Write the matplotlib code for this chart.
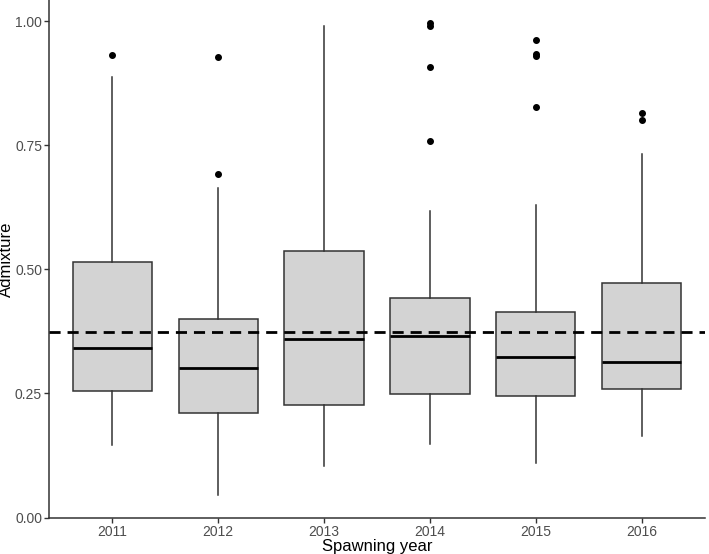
import numpy as np
import matplotlib
matplotlib.use("Agg")
import matplotlib.pyplot as plt

plt.rcParams['font.family'] = ['Liberation Sans', 'DejaVu Sans']

# Box statistics
years = ['2011', '2012', '2013', '2014', '2015', '2016']
whisker_low = [0.147, 0.046, 0.103, 0.149, 0.109, 0.165]
q1 = [0.254, 0.210, 0.226, 0.248, 0.244, 0.258]
median = [0.341, 0.302, 0.359, 0.365, 0.323, 0.313]
q3 = [0.514, 0.401, 0.538, 0.442, 0.415, 0.472]
whisker_high = [0.887, 0.665, 0.990, 0.617, 0.629, 0.732]
outliers = [
    [0.933],
    [0.929, 0.692],
    [],
    [0.996, 0.990, 0.907, 0.758],
    [0.962, 0.935, 0.931, 0.827],
    [0.815, 0.802],
]
overall_mean = 0.373

stats = []
for i in range(len(years)):
    stats.append(dict(whislo=whisker_low[i], q1=q1[i], med=median[i], q3=q3[i],
                      whishi=whisker_high[i], fliers=outliers[i], label=years[i]))

fig = plt.figure(figsize=(7.09, 5.54), dpi=100)
ax = fig.add_axes([49/709, 36/554, 656/709, 518/554])

edge = '#333333'
ax.bxp(stats, positions=np.arange(1, len(years) + 1), widths=0.75,
       patch_artist=True, showcaps=False,
       boxprops=dict(facecolor='#d3d3d3', edgecolor=edge, linewidth=1.1),
       whiskerprops=dict(color=edge, linewidth=1.1),
       medianprops=dict(color='black', linewidth=2.0),
       flierprops=dict(marker='o', markerfacecolor='black', markeredgecolor='black',
                       markersize=4, linestyle='none'))

ax.axhline(overall_mean, color='black', linewidth=2, dashes=(4, 2.5), zorder=5)

ax.set_xlim(0.4, 6.6)
ax.set_ylim(-0.001, 1.043)
ax.set_yticks([0, 0.25, 0.5, 0.75, 1.0])
ax.set_yticklabels(['0.00', '0.25', '0.50', '0.75', '1.00'])

for side in ['top', 'right']:
    ax.spines[side].set_visible(False)
for side in ['left', 'bottom']:
    ax.spines[side].set_color('#333333')
    ax.spines[side].set_linewidth(1.1)

ax.tick_params(axis='both', colors='#333333', length=3.5, width=1, labelsize=10,
               labelcolor='#4d4d4d', pad=1.5)

ax.set_xlabel('Spawning year', fontsize=12, labelpad=0)
ax.set_ylabel('Admixture', fontsize=12, labelpad=1)

fig.savefig('out.png', dpi=100)
